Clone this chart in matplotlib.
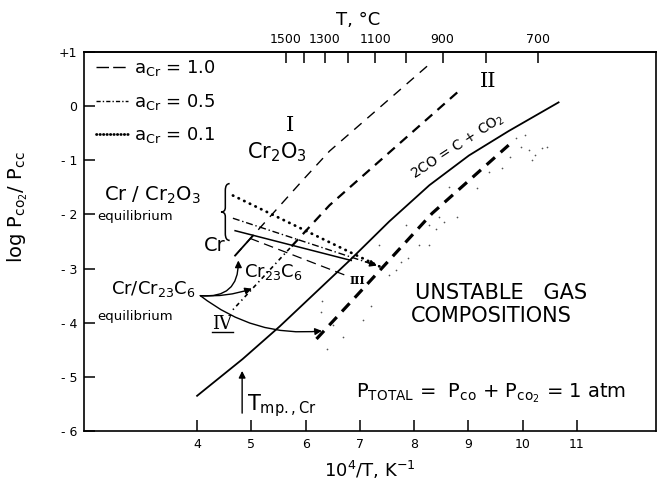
import numpy as np
import matplotlib
matplotlib.use('Agg')
import matplotlib.pyplot as plt
from matplotlib.lines import Line2D
from matplotlib.path import Path
from matplotlib.patches import PathPatch

plt.rcParams['font.family'] = ['DejaVu Sans']
plt.rcParams['mathtext.fontset'] = 'dejavusans'
plt.rcParams['lines.scale_dashes'] = False

# ---------------- data ----------------
x_ticks = [4, 5, 6, 7, 8, 9, 10, 11]
y_ticks = [-6, -5, -4, -3, -2, -1, 0, 1]
y_ticklabels = ['- 6', '- 5', '- 4', '- 3', '- 2', '- 1', '0', '+1']
t_ticks_C = [1500, 1400, 1300, 1200, 1100, 1000, 900, 800, 700]
t_ticklabels = ['1500', '', '1300', '', '1100', '', '900', '', '700']

# Boudouard equilibrium 2CO = C + CO2 (solid)
boud_x = [4.00, 4.84, 5.52, 6.81, 7.54, 8.28, 9.01, 9.74, 10.66]
boud_y = [-5.35, -4.67, -4.07, -2.85, -2.13, -1.46, -0.91, -0.46, 0.07]

# line I (thin long dashes) with short solid lower end
lineI_x = [4.70, 5.98, 6.44, 8.24]
lineI_y = [-2.76, -1.33, -0.83, 0.74]
lineI_solid_x = [4.70, 5.03]
lineI_solid_y = [-2.76, -2.39]

# line II (medium dashes) with dash-dot lower part
lineII_x = [5.74, 6.44, 8.88]
lineII_y = [-2.59, -1.83, 0.33]
lineII_low_x = [4.66, 5.74]
lineII_low_y = [-3.76, -2.59]

# line III (heavy dashes)
lineIII_x = [6.20, 6.94, 8.33, 9.74]
lineIII_y = [-4.30, -3.50, -1.98, -0.72]

# lines from the Cr/Cr2O3 bracket
a01_x = [4.66, 7.36]
a01_y = [-1.65, -2.96]
a05_x = [4.66, 7.36]
a05_y = [-2.07, -2.96]
crs_x = [4.70, 6.84]
crs_y = [-2.30, -2.85]
a10_x = [4.97, 6.75]
a10_y = [-2.44, -3.13]

# bracket span (Cr/Cr2O3 group)
brace_x = 4.52
brace_y = [-1.43, -2.48]

# Cr/Cr23C6 point and arrow ends
cr23_pt = (4.06, -3.50)
arrow_up_end = (4.76, -2.85)
arrow_mid_end = (5.01, -3.37)
arrow_low_end = (6.30, -4.15)
tmp_x = 4.83
tmp_y = [-5.67, -4.89]

# stippled region
stip_x = [9.87, 10.05, 9.96, 10.11, 10.23, 10.35, 10.45, 10.17, 9.77, 9.62,
          9.38, 9.16, 8.64, 8.79, 8.46, 8.55, 8.28, 8.40, 7.85, 8.09,
          8.28, 7.88, 7.76, 7.54, 7.66, 7.36, 6.31, 6.29, 6.68, 6.39,
          7.05, 7.20, 6.50]
stip_y = [-0.59, -0.53, -0.75, -0.81, -0.90, -0.78, -0.75, -0.99, -0.93, -1.15,
          -1.21, -1.52, -1.49, -2.04, -2.04, -2.14, -2.20, -2.26, -2.20, -2.57,
          -2.57, -2.81, -2.88, -3.12, -3.03, -2.57, -3.59, -3.80, -4.26, -4.48,
          -3.95, -3.70, -4.05]

# ---------------- figure ----------------
fig = plt.figure(figsize=(6.63, 4.84), dpi=100)
ax = fig.add_axes([0.127, 0.1095, 0.862, 0.783])
ax.set_xlim(1.92, 12.45)
ax.set_ylim(-6, 1.0)

k = 'black'
ax.plot(boud_x, boud_y, color=k, lw=1.3)
ax.plot(lineI_x, lineI_y, color=k, lw=1.0, linestyle=(0, (7, 5.5)))
ax.plot(lineI_solid_x, lineI_solid_y, color=k, lw=1.3)
ax.plot(lineII_x, lineII_y, color=k, lw=1.6, linestyle=(0, (7, 5)))
ax.plot(lineII_low_x, lineII_low_y, color=k, lw=1.2, linestyle=(0, (1, 2.5, 3, 2.5)))
ax.plot(lineIII_x, lineIII_y, color=k, lw=2.3, linestyle=(0, (8, 5.5)))

ax.plot(a01_x, a01_y, color=k, lw=2.0, linestyle=(0, (0.3, 4.2)), dash_capstyle='round')
ax.plot(a05_x, a05_y, color=k, lw=1.0, linestyle=(0, (5, 2, 1, 2)))
ax.plot(crs_x, crs_y, color=k, lw=1.1)
ax.plot(a10_x, a10_y, color=k, lw=0.9, linestyle=(0, (7, 4)))
ax.annotate('', xy=(a05_x[1], a05_y[1]), xytext=(a05_x[1] - 0.3, a05_y[1] + 0.1),
            arrowprops=dict(arrowstyle='-|>', color=k, lw=1.0, mutation_scale=10))

ax.scatter(stip_x, stip_y, s=1.5, color='#555555', lw=0)

# curly brace drawn as a path
w = 0.16
yt, yb = brace_y
ym = 0.5 * (yt + yb)
hh = yt - yb
verts = [
    (brace_x + w * 0.5, yt),
    (brace_x, yt), (brace_x, yt - 0.12 * hh),
    (brace_x, ym + 0.08 * hh),
    (brace_x, ym), (brace_x - w * 0.5, ym),
    (brace_x, ym), (brace_x, ym - 0.08 * hh),
    (brace_x, yb + 0.12 * hh),
    (brace_x, yb), (brace_x + w * 0.5, yb),
]
codes = [Path.MOVETO, Path.CURVE3, Path.CURVE3, Path.LINETO, Path.CURVE3, Path.CURVE3,
         Path.CURVE3, Path.CURVE3, Path.LINETO, Path.CURVE3, Path.CURVE3]
ax.add_patch(PathPatch(Path(verts, codes), fill=False, lw=1.1, color=k))

# curved arrows from Cr/Cr23C6 point
ap = dict(arrowstyle='-|>', color=k, lw=1.0, mutation_scale=10, shrinkA=0, shrinkB=0)
ax.annotate('', xy=arrow_up_end, xytext=cr23_pt,
            arrowprops=dict(ap, connectionstyle='arc3,rad=0.55'))
ax.annotate('', xy=arrow_mid_end, xytext=cr23_pt,
            arrowprops=dict(ap, connectionstyle='arc3,rad=0.1'))
ax.annotate('', xy=arrow_low_end, xytext=cr23_pt,
            arrowprops=dict(ap, connectionstyle='arc3,rad=0.2'))
ax.annotate('', xy=(tmp_x, tmp_y[1]), xytext=(tmp_x, tmp_y[0]),
            arrowprops=dict(arrowstyle='-|>', color=k, lw=1.0, mutation_scale=10,
                            shrinkA=0, shrinkB=0))

# ---------------- axes styling ----------------
for s in ax.spines.values():
    s.set_linewidth(1.2)
ax.set_xticks(x_ticks)
ax.set_xticklabels([str(v) for v in x_ticks])
ax.set_yticks(y_ticks)
ax.set_yticklabels(y_ticklabels)
ax.tick_params(direction='in', length=8, width=1.1, labelsize=9, pad=5)

def to_C(x):
    x = np.asarray(x, dtype=float)
    with np.errstate(divide='ignore'):
        return 1e4 / x - 273.15

def to_x(t):
    t = np.asarray(t, dtype=float)
    with np.errstate(divide='ignore'):
        return 1e4 / (t + 273.15)

sec = ax.secondary_xaxis('top', functions=(to_C, to_x))
sec.set_xticks(t_ticks_C)
sec.set_xticklabels(t_ticklabels)
sec.tick_params(direction='in', length=8, width=1.1, labelsize=9, pad=4)
sec.spines['top'].set_linewidth(1.2)
ax.text(0.48, 1.085, 'T, °C', transform=ax.transAxes, ha='center', va='center', fontsize=13)

ax.set_xlabel(r'10$^4$/T, K$^{-1}$', fontsize=13, labelpad=6)
ax.set_ylabel(r'log P$_{\mathrm{co_2}}$/ P$_{\mathrm{cc}}$', fontsize=14)
ax.yaxis.set_label_coords(-0.095, 0.59)

# legend
handles = [Line2D([], [], color=k, lw=1.0, linestyle=(0, (9, 3))),
           Line2D([], [], color=k, lw=1.0, linestyle=(0, (3, 1.5, 1, 1.5))),
           Line2D([], [], color=k, lw=2.0, linestyle=(0, (0.3, 2.2)), dash_capstyle='round')]
labels = [r'$\mathrm{a_{Cr}}$ = 1.0', r'$\mathrm{a_{Cr}}$ = 0.5', r'$\mathrm{a_{Cr}}$ = 0.1']
ax.legend(handles, labels, loc='upper left', bbox_to_anchor=(0.01, 1.0), frameon=False,
          fontsize=13, handlelength=1.75, handletextpad=0.35, labelspacing=0.75,
          borderpad=0.35, borderaxespad=0.0)

# ---------------- annotations ----------------
serif = 'DejaVu Serif'
ax.text(5.71, -0.35, 'I', fontsize=15, family=serif, ha='center', va='center')
ax.text(5.47, -0.85, r'Cr$_2$O$_3$', fontsize=15, ha='center', va='center')
ax.text(9.36, 0.46, 'II', fontsize=15, family=serif, ha='center', va='center')
ax.text(3.17, -1.65, r'Cr / Cr$_2$O$_3$', fontsize=14, ha='center', va='center')
ax.text(2.16, -2.04, 'equilibrium', fontsize=9.5, ha='left', va='center')
ax.text(4.33, -2.57, 'Cr', fontsize=14, ha='center', va='center')
ax.text(5.40, -3.06, r'Cr$_{23}$C$_6$', fontsize=13, ha='center', va='center')
ax.text(3.98, -3.37, r'Cr/Cr$_{23}$C$_6$', fontsize=13, ha='right', va='center')
ax.text(2.16, -3.89, 'equilibrium', fontsize=9.5, ha='left', va='center')
ax.text(4.46, -4.02, 'IV', fontsize=13, family=serif, ha='center', va='center')
ax.plot([4.27, 4.66], [-4.18, -4.18], color=k, lw=1.0)
ax.text(6.96, -3.22, 'III', fontsize=8, family=serif, fontweight='bold', ha='center', va='center')
ax.text(8.80, -0.74, r'2CO = C + CO$_2$', fontsize=10, rotation=33,
        rotation_mode='anchor', ha='center', va='center')
ax.text(9.60, -3.46, 'UNSTABLE   GAS', fontsize=15, ha='center', va='center')
ax.text(9.43, -3.87, 'COMPOSITIONS', fontsize=15, ha='center', va='center')
ax.text(9.41, -5.31, r'P$_{\mathrm{TOTAL}}$ =  P$_{\mathrm{co}}$ + P$_{\mathrm{co_2}}$ = 1 atm',
        fontsize=14, ha='center', va='center')
ax.text(4.92, -5.62, r'T$_{\mathrm{mp.,Cr}}$', fontsize=15, ha='left', va='baseline')

fig.savefig('out.png', dpi=100)
